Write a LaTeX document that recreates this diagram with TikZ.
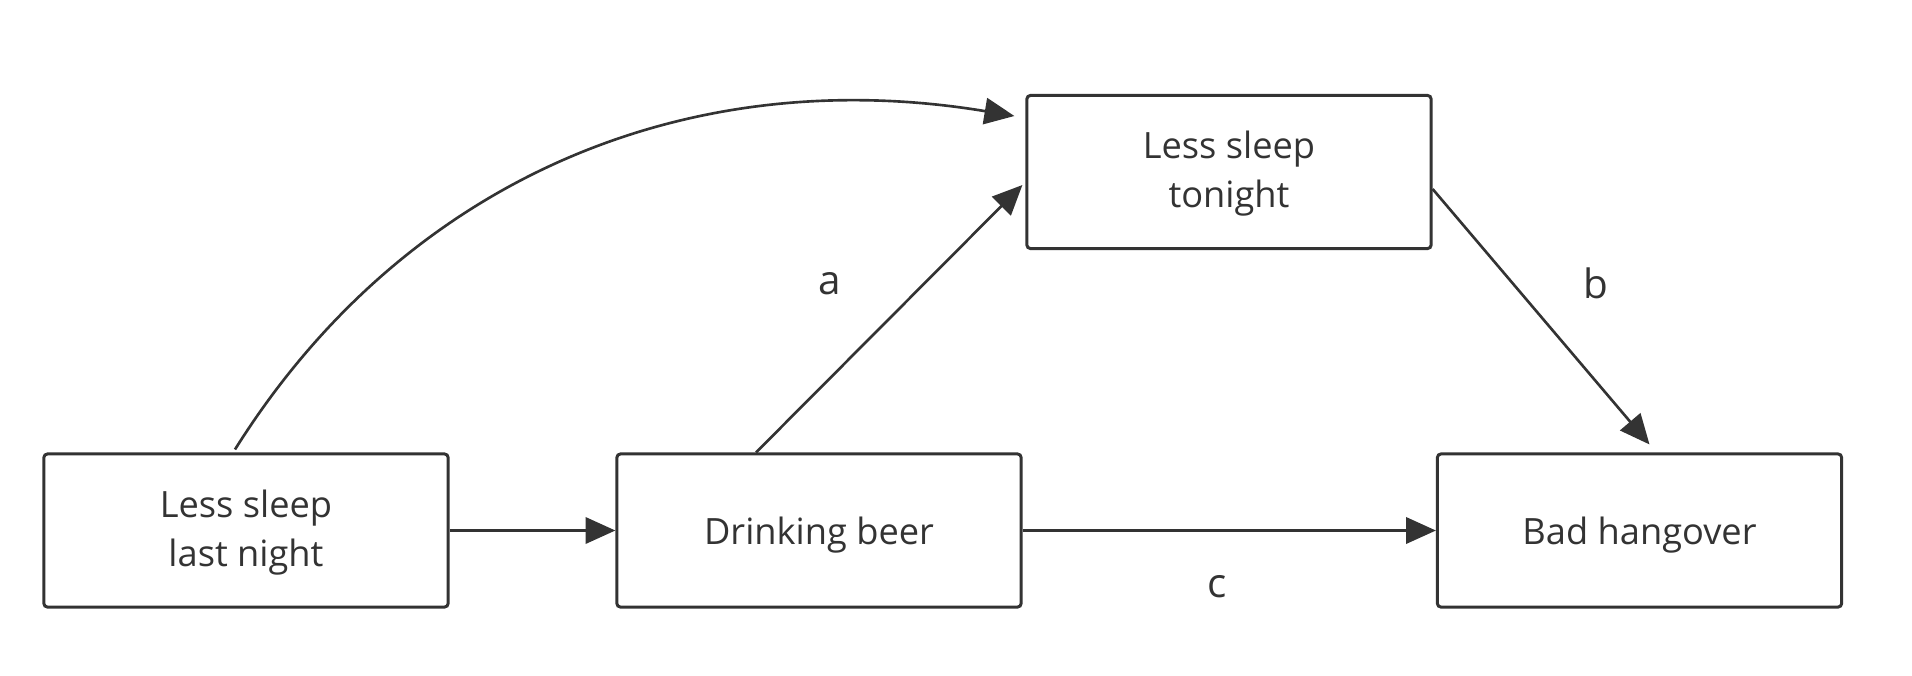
\documentclass[tikz,border=0pt]{standalone}
\usepackage{fontspec}
\setmainfont{Open Sans}
\usetikzlibrary{arrows.meta,calc}
\definecolor{ink}{HTML}{333333}
\begin{document}
\begin{tikzpicture}[x=0.01cm,y=-0.01cm,
  box/.style={draw=ink,line width=0.85pt,rounded corners=1pt,minimum width=4.04cm,minimum height=1.53cm,align=center,text=ink,font=\fontsize{10.3}{14}\selectfont,inner sep=0pt,text depth=0pt},
  twoline/.style={text depth=1.4pt},
  conn/.style={draw=ink,line width=0.75pt,-{Triangle[length=8.5pt,width=7.5pt]}},
  lab/.style={text=ink,font=\fontsize{11.5}{14}\selectfont,inner sep=0pt}]
\useasboundingbox (0,0) rectangle (1912,675);
\node[box,twoline] (b1) at (246,530.5) {Less sleep\\last night};
\node[box] (b2) at (819,530.5) {Drinking beer};
\node[box,twoline] (b3) at (1229,172) {Less sleep\\tonight};
\node[box] (b4) at (1639.5,530.5) {Bad hangover};
\draw[conn] (b1.east) -- (b2.west);
\draw[conn] (b2.east) -- (b4.west);
\draw[conn] ($(b2.north)+(-63,0)$) -- ($(b3.west)+(-3,13)$);
\draw[conn] ($(b3.east)+(0,17)$) -- ($(b4.north)+(10,-8)$);
\draw[conn] ($(b1.north)+(-11,-3)$) .. controls (402,183) and (683,61) .. ($(b3.west)+(-11,-56)$);
\node[lab] (la) at (830,284) {a};
\node[lab] (lb) at (1596,283) {b};
\node[lab] (lc) at (1217,587) {c};
\end{tikzpicture}
\end{document}
